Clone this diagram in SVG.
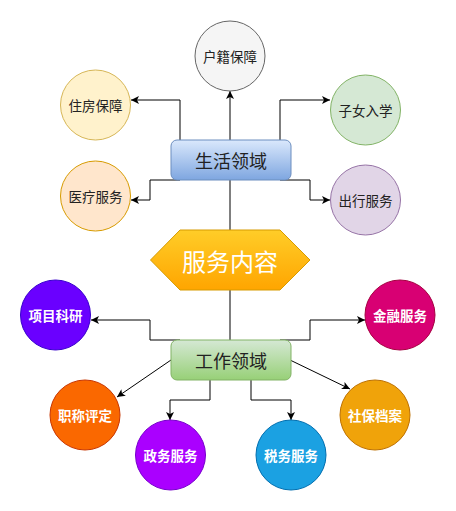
<svg xmlns="http://www.w3.org/2000/svg" width="456" height="511" viewBox="0 0 456 511">
<style>
text{font-family:"Noto Sans CJK SC","Noto Sans",sans-serif;text-anchor:middle;dominant-baseline:central}
.c{font-size:13.5px;fill:#222}
.w{font-size:13.5px;fill:#fff;font-weight:bold}
.b{font-size:18px;fill:#222}
.conn path{fill:none;stroke:#000;stroke-width:1;marker-end:url(#arr)}
</style>
<defs>
<marker id="arr" markerUnits="userSpaceOnUse" markerWidth="10" markerHeight="10" refX="9" refY="5" orient="auto">
<path d="M1,1 L9,5 L1,9 L3,5 z" fill="#000"/>
</marker>
<linearGradient id="gb" x1="0" y1="0" x2="0" y2="1"><stop offset="0" stop-color="#dae8fc"/><stop offset="1" stop-color="#7ea6e0"/></linearGradient>
<linearGradient id="gg" x1="0" y1="0" x2="0" y2="1"><stop offset="0" stop-color="#d5e8d4"/><stop offset="1" stop-color="#97d077"/></linearGradient>
<linearGradient id="go" x1="0" y1="0" x2="0" y2="1"><stop offset="0" stop-color="#ffcd28"/><stop offset="1" stop-color="#ffa500"/></linearGradient>
</defs>
<g class="conn">
<path d="M230,140 L230,91"/>
<path d="M180,140 L180,100 L131,100"/>
<path d="M280,140 L280,100 L330,100"/>
<path d="M180,180 L150,180 L150,200 L131,200"/>
<path d="M280,180 L310,180 L310,200 L330,200"/>
<path d="M230,180 L230,230" style="marker-end:none"/>
<path d="M230,290 L230,340" style="marker-end:none"/>
<path d="M180,340 L150,340 L150,320 L91,320"/>
<path d="M280,340 L310,340 L310,320 L365,320"/>
<path d="M171,360 L117,397"/>
<path d="M290,360 L350,389"/>
<path d="M210,380 L210,400 L170,400 L170,420"/>
<path d="M251,380 L251,400 L291,400 L291,420"/>
</g>
<g id="n-huji"><circle cx="230" cy="56" r="35" fill="#f5f5f5" stroke="#666666"/><text x="230" y="56" class="c">户籍保障</text></g>
<g id="n-zhufang"><circle cx="95.5" cy="105" r="35" fill="#fff2cc" stroke="#d6b656"/><text x="95.5" y="105" class="c">住房保障</text></g>
<g id="n-yiliao"><circle cx="95.5" cy="196" r="35" fill="#ffe6cc" stroke="#d79b00"/><text x="95.5" y="196" class="c">医疗服务</text></g>
<g id="n-zinv"><circle cx="365.5" cy="110" r="35" fill="#d5e8d4" stroke="#82b366"/><text x="365.5" y="110" class="c">子女入学</text></g>
<g id="n-chuxing"><circle cx="365.5" cy="200" r="35" fill="#e1d5e7" stroke="#9673a6"/><text x="365.5" y="200" class="c">出行服务</text></g>
<g id="n-shenghuo"><rect x="171" y="140" width="120" height="40" rx="6" fill="url(#gb)" stroke="#6c8ebf"/><text x="231" y="160" class="b">生活领域</text></g>
<g id="n-fuwu"><polygon points="150.5,260 180,230 280,230 310,260 280,290 180,290" fill="url(#go)" stroke="#d79b00"/><text x="230" y="260" style="font-size:24px;fill:#fff">服务内容</text></g>
<g id="n-gongzuo"><rect x="171" y="340" width="120" height="40" rx="6" fill="url(#gg)" stroke="#82b366"/><text x="231" y="360" class="b">工作领域</text></g>
<g id="n-xiangmu"><circle cx="55.5" cy="315" r="35" fill="#6a00ff" stroke="#3700cc"/><text x="55.5" y="315" class="w">项目科研</text></g>
<g id="n-zhicheng"><circle cx="85" cy="415" r="35" fill="#fa6800" stroke="#c73500"/><text x="85" y="415" class="w">职称评定</text></g>
<g id="n-zhengwu"><circle cx="170.5" cy="455" r="35" fill="#aa00ff" stroke="#7700cc"/><text x="170.5" y="455" class="w">政务服务</text></g>
<g id="n-jinrong"><circle cx="400" cy="315" r="35" fill="#d80073" stroke="#a50040"/><text x="400" y="315" class="w">金融服务</text></g>
<g id="n-shebao"><circle cx="375" cy="415" r="35" fill="#f0a30a" stroke="#bd7000"/><text x="375" y="415" class="w">社保档案</text></g>
<g id="n-shuiwu"><circle cx="291" cy="455" r="35" fill="#1ba1e2" stroke="#006eaf"/><text x="291" y="455" class="w">税务服务</text></g>
</svg>
